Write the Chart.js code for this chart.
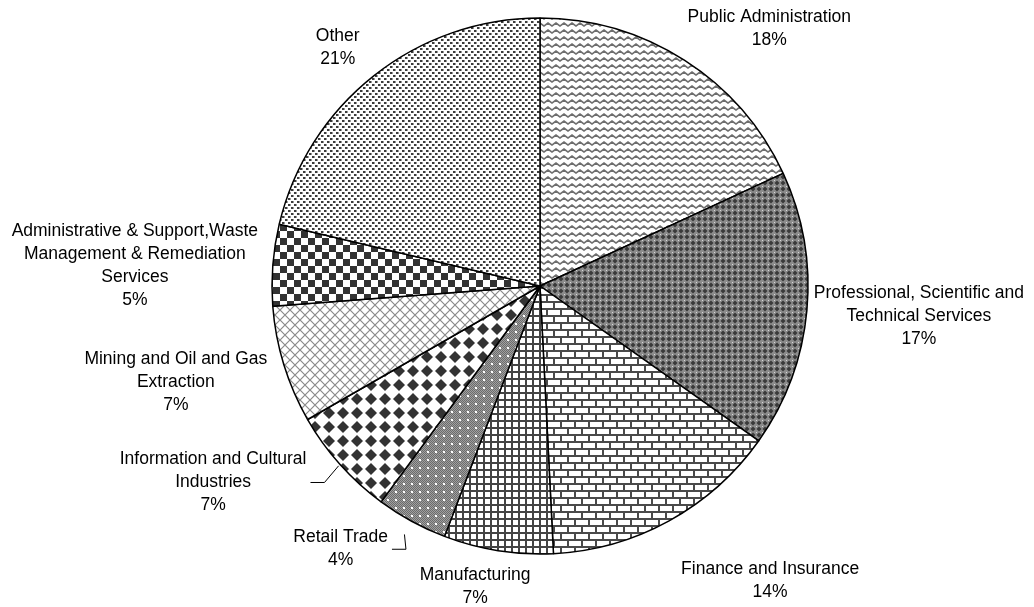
<!DOCTYPE html>
<html>
<head>
<meta charset="utf-8">
<script src="https://cdn.jsdelivr.net/npm/chart.js@4.4.1/dist/chart.umd.min.js"></script>
<style>
  html, body { margin: 0; padding: 0; background: #fff; }
  #wrap { width: 1034px; height: 607px; }
</style>
</head>
<body>
<div id="wrap"><canvas id="pie"></canvas></div>
<script>
var categories = ["Public Administration", "Professional, Scientific and Technical Services",
  "Finance and Insurance", "Manufacturing", "Retail Trade", "Information and Cultural Industries",
  "Mining and Oil and Gas Extraction", "Administrative & Support,Waste Management & Remediation Services", "Other"];
var shares = [18.1, 16.7, 14.4, 6.6, 4.3, 6.6, 7.1, 4.9, 21.3];

// label placement relative to the outer middle of each slice
var labelOffsets = [[85, -32], [112, 6], [101, 60], [-23, 36], [-71, 27], [-127, 18], [-108, 17], [-138, 1], [-36, -28]];
var wrapWidths = [400, 240, 400, 400, 400, 210, 200, 275, 400];
var leaders = [null, null, null, null, 15, 2, null, null, null];

function tile(w, h, draw) {
  var c = document.createElement("canvas");
  c.width = w; c.height = h;
  var g = c.getContext("2d");
  g.fillStyle = "#fff";
  g.fillRect(0, 0, w, h);
  draw(g);
  return g.createPattern(c, "repeat");
}

var patterns = [
  // zigzag
  tile(8, 7, function (g) {
    g.strokeStyle = "#6e6e6e"; g.lineWidth = 1.6;
    g.beginPath(); g.moveTo(-4, 2); g.lineTo(0, 5); g.lineTo(4, 2); g.lineTo(8, 5); g.lineTo(12, 2); g.stroke();
  }),
  // dense dark weave
  tile(6, 6, function (g) {
    g.fillStyle = "#8c8c8c"; g.fillRect(0, 0, 6, 6);
    g.fillStyle = "#3a3a3a";
    g.beginPath(); g.moveTo(3, 0.5); g.lineTo(5.5, 3); g.lineTo(3, 5.5); g.lineTo(0.5, 3); g.closePath(); g.fill();
    g.fillStyle = "#d8d8d8"; g.fillRect(0, 0, 1, 1);
  }),
  // bricks
  tile(14, 14, function (g) {
    g.fillStyle = "#4a4a4a";
    g.fillRect(0, 0, 14, 2); g.fillRect(0, 7, 14, 2);
    g.fillRect(0, 0, 2, 7); g.fillRect(7, 7, 2, 7);
  }),
  // grid
  tile(7, 7, function (g) {
    g.fillStyle = "#444";
    g.fillRect(0, 0, 7, 2); g.fillRect(0, 0, 2, 7);
  }),
  // fine gray with white dots
  tile(8, 8, function (g) {
    g.fillStyle = "#a0a0a0"; g.fillRect(0, 0, 8, 8);
    g.fillStyle = "#6c6c6c";
    for (var i = 0; i < 8; i++) for (var j = 0; j < 8; j++) if ((i + j) % 2 === 0) g.fillRect(i, j, 1, 1);
    g.fillStyle = "#fff"; g.fillRect(3, 3, 2, 2);
  }),
  // big diamonds
  tile(14, 14, function (g) {
    g.fillStyle = "#333";
    g.beginPath(); g.moveTo(7, 1); g.lineTo(13, 7); g.lineTo(7, 13); g.lineTo(1, 7); g.closePath(); g.fill();
  }),
  // diagonal lattice
  tile(10, 10, function (g) {
    g.strokeStyle = "#8a8a8a"; g.lineWidth = 1.2;
    g.beginPath(); g.moveTo(0, 0); g.lineTo(10, 10); g.moveTo(10, 0); g.lineTo(0, 10); g.stroke();
  }),
  // checkerboard
  tile(14, 14, function (g) {
    g.fillStyle = "#333";
    g.fillRect(0, 0, 7, 7); g.fillRect(7, 7, 7, 7);
  }),
  // dots
  tile(6, 6, function (g) {
    g.fillStyle = "#3c3c3c";
    g.fillRect(0, 0, 2, 2); g.fillRect(3, 3, 2, 2);
    g.fillStyle = "#999";
    g.fillRect(2, 0, 1, 2); g.fillRect(5, 3, 1, 2);
  })
];

function wrapText(ctx, text, maxW) {
  var words = text.split(" "), lines = [], cur = "";
  words.forEach(function (w) {
    var t = cur ? cur + " " + w : w;
    if (cur && ctx.measureText(t).width > maxW) { lines.push(cur); cur = w; } else cur = t;
  });
  lines.push(cur);
  return lines;
}

var sliceLabels = {
  id: "sliceLabels",
  afterDraw: function (chart) {
    var ctx = chart.ctx;
    var meta = chart.getDatasetMeta(0);
    ctx.save();
    ctx.font = "17.5px 'Liberation Sans', Arial, sans-serif";
    ctx.fillStyle = "#000";
    ctx.textAlign = "center";
    ctx.textBaseline = "middle";
    var lh = 23;
    meta.data.forEach(function (arc, i) {
      var p = arc.getProps(["x", "y", "startAngle", "endAngle", "outerRadius"], true);
      var a = (p.startAngle + p.endAngle) / 2;
      var ex = p.x + Math.cos(a) * p.outerRadius, ey = p.y + Math.sin(a) * p.outerRadius;
      var cx = ex + labelOffsets[i][0], cy = ey + labelOffsets[i][1];
      var lines = wrapText(ctx, categories[i], wrapWidths[i]);
      lines.push(Math.round(shares[i]) + "%");
      var top = cy - (lines.length - 1) * lh / 2;
      var maxW = 0;
      lines.forEach(function (l, k) {
        ctx.fillText(l, cx, top + k * lh);
        if (k < lines.length - 1) maxW = Math.max(maxW, ctx.measureText(l).width);
      });
      if (leaders[i] !== null) {
        var sx = cx + maxW / 2 + 4, sy = cy + (i === 4 ? 1 : 0);
        var tr = p.outerRadius + leaders[i];
        ctx.strokeStyle = "#000"; ctx.lineWidth = 1;
        ctx.beginPath();
        ctx.moveTo(sx, sy); ctx.lineTo(sx + 14, sy);
        ctx.lineTo(p.x + Math.cos(a) * tr, p.y + Math.sin(a) * tr);
        ctx.stroke();
      }
    });
    ctx.restore();
  }
};

new Chart(document.getElementById("pie"), {
  type: "pie",
  data: {
    labels: categories,
    datasets: [{
      data: shares,
      backgroundColor: patterns,
      borderColor: "#000",
      borderWidth: 1.5,
      hoverOffset: 0
    }]
  },
  options: {
    responsive: true,
    maintainAspectRatio: false,
    animation: false,
    radius: 268,
    layout: { padding: { left: 46, right: 0, top: 0, bottom: 35 } },
    plugins: {
      legend: { display: false },
      tooltip: { enabled: false }
    }
  },
  plugins: [sliceLabels]
});
</script>
</body>
</html>
